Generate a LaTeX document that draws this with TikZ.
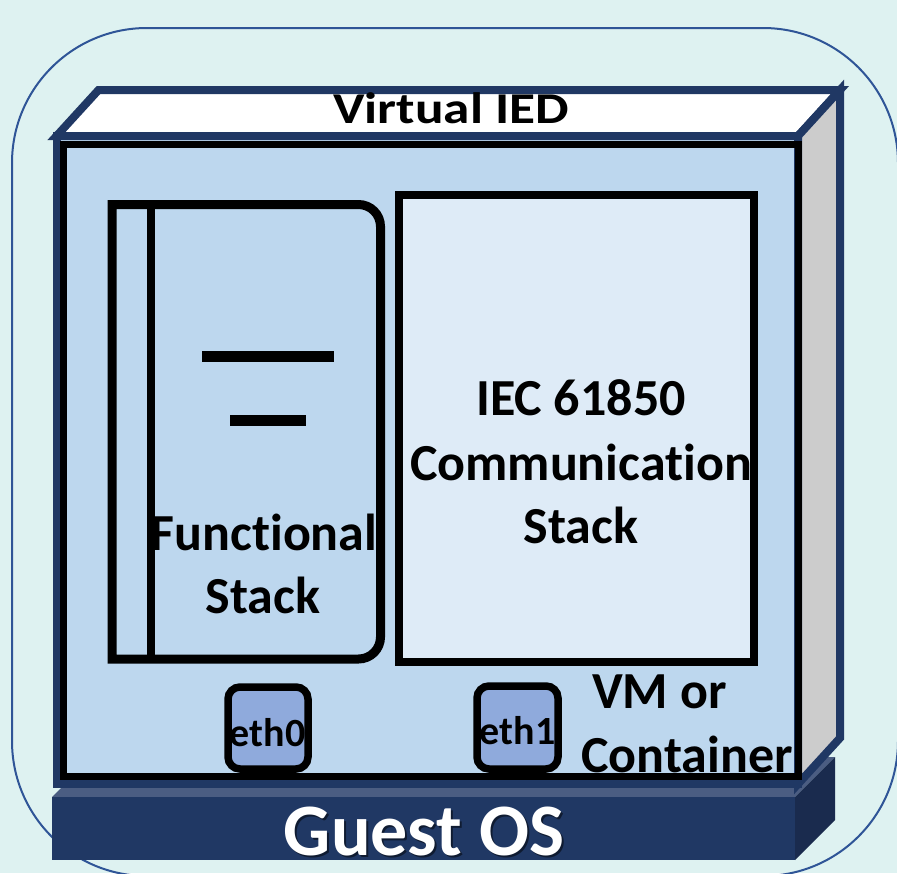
\documentclass[tikz,border=0pt]{standalone}
\usepackage{fontspec}
\setmainfont{Carlito}[Ligatures=NoCommon]
\definecolor{bgcol}{HTML}{DEF2F1}
\definecolor{framecol}{HTML}{2F5597}
\definecolor{navy}{HTML}{203864}
\definecolor{navytop}{HTML}{4B5D82}
\definecolor{navyside}{HTML}{1A2B4E}
\definecolor{faceblue}{HTML}{BDD7EE}
\definecolor{paleblue}{HTML}{DEEBF7}
\definecolor{ethblue}{HTML}{8FAADC}
\definecolor{sidegray}{HTML}{CCCCCC}
\begin{document}
\begin{tikzpicture}[x=1pt,y=1pt,
  cubeline/.style={draw=navy,line width=8pt,line join=miter},
  blackline/.style={draw=black,line width=8pt,line join=miter},
  ethbox/.style={draw=black,fill=ethblue,line width=7.5pt,rounded corners=12pt},
  bigtext/.style={inner sep=0pt,anchor=base,font=\bfseries\fontsize{52}{62}\selectfont},
  ethtext/.style={inner sep=0pt,anchor=base,font=\bfseries\fontsize{40}{48}\selectfont},
  titletext/.style={inner sep=0pt,anchor=base,font=\bfseries\fontsize{44}{52}\selectfont},
  ostext/.style={inner sep=0pt,anchor=base,font=\bfseries\fontsize{74}{88}\selectfont}]
\useasboundingbox (0,0) rectangle (897,-873);
% background and outer rounded frame
\fill[bgcol] (0,0) rectangle (897,-873);
\draw[framecol,line width=2pt,rounded corners=135pt] (12,-28) rectangle (898,-876);

% Guest OS slab
\fill[navytop] (52,-797) -- (795,-797) -- (835,-757) -- (92,-757) -- cycle;
\fill[navyside] (795,-797) -- (835,-757) -- (835,-820) -- (795,-860) -- cycle;
\fill[navy] (52,-797) rectangle (795,-860);
\node[ostext,text=black,opacity=0.5] (osshadow) at (426,-857) {Guest OS};
\node[ostext,text=white] (os) at (424,-855) {Guest OS};

% VM cube
\path[cubeline,fill=faceblue] (56.5,-136) rectangle (798,-784);
\path[cubeline,fill=white] (56.5,-136) -- (798,-136) -- (840,-90) -- (98.5,-90) -- cycle;
\path[cubeline,fill=sidegray] (798,-136) -- (840,-90) -- (840,-738) -- (798,-784) -- cycle;
\draw[line width=7pt,line join=miter] (63.5,-144) rectangle (798.5,-776);
\node[titletext] (ied) at (451,-123) {\scalebox{1.21}[1]{Virtual IED}};

% functional stack
\draw[black,line width=9pt,line join=miter]
  (112,-659) -- (112,-204.5) -- (358.5,-204.5)
  arc[start angle=90,end angle=0,radius=22] -- (380.5,-637)
  arc[start angle=0,end angle=-90,radius=22] -- cycle;
\draw[black,line width=8pt] (151,-204.5) -- (151,-659);
\draw[black,line width=11pt] (202,-356) -- (334,-356);
\draw[black,line width=11pt] (230,-420) -- (306,-420);
\node[bigtext] (func1) at (264,-550) {Functional};
\node[bigtext] (func2) at (263,-613.3) {Stack};

% communication stack
\draw[blackline,fill=paleblue] (399,-195) rectangle (754,-662);
\node[bigtext] (iec1) at (581,-415) {IEC 61850};
\node[bigtext] (iec2) at (581,-480) {Communication};
\node[bigtext] (iec3) at (581,-543.3) {Stack};

% network interfaces
\draw[ethbox] (228,-687) rectangle (308,-769);
\draw[ethbox] (477,-686) rectangle (558,-769);
\node[ethtext] (eth0) at (267.5,-746) {eth0};
\node[ethtext] (eth1) at (517.5,-744) {eth1};

% VM label
\node[bigtext,anchor=base west] (vm1) at (592,-708) {VM or};
\node[bigtext,anchor=base west] (vm2) at (581,-772) {Container};
\end{tikzpicture}
\end{document}
